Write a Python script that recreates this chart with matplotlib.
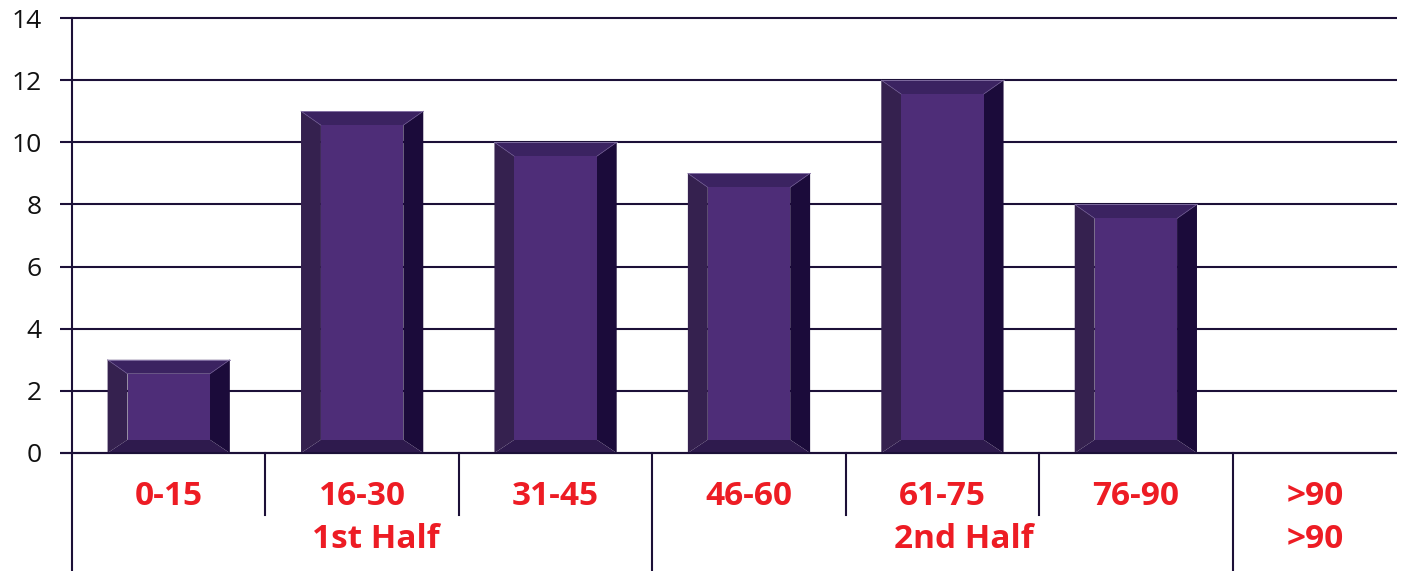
import matplotlib.pyplot as plt
from matplotlib.patches import Polygon
from matplotlib.transforms import blended_transform_factory

plt.rcParams['font.family'] = ['Open Sans', 'DejaVu Sans']

categories = ["0-15", "16-30", "31-45", "46-60", "61-75", "76-90", ">90"]
values = [3, 11, 10, 9, 12, 8, 0]
groups = ["1st Half", "2nd Half", ">90"]
group_spans = [(0, 2), (3, 5), (6, 6)]
yticks = [0, 2, 4, 6, 8, 10, 12, 14]

line_col = "#1c1038"
red = "#ed1c24"
face = "#4e2d78"
top_col = "#3b2361"
left_col = "#35214f"
right_col = "#1b0b3a"
bottom_col = "#2e1a4d"

fig = plt.figure(figsize=(14.01, 5.71), dpi=100)
# axes runs a bit past the right edge; last category is cut off like the original
ax = fig.add_axes([72 / 1401, 118 / 571, 1354 / 1401, 435 / 571])
ax.set_xlim(-0.5, len(categories) - 0.5)
ax.set_ylim(0, 14)

for s in ax.spines.values():
    s.set_visible(False)

gx0, gx1 = -12 / 1354, 1325 / 1354   # grid extent in axes fraction
grid_tr = blended_transform_factory(ax.transAxes, ax.transData)
for t in yticks:
    ax.plot([gx0, gx1], [t, t], color=line_col, lw=1.5, transform=grid_tr,
            clip_on=False, zorder=1, solid_capstyle="butt")

ax.set_yticks(yticks)
ax.set_xticks([])
ax.tick_params(axis="y", length=0, pad=22, labelsize=19, labelcolor="#111111")

# beveled bars
w = 0.632
bx = 0.103
by = 0.45
for i, v in enumerate(values):
    if v <= 0:
        continue
    x0, x1 = i - w / 2, i + w / 2
    ix0, ix1 = x0 + bx, x1 - bx
    iy0, iy1 = by * 0.95, v - by
    ax.add_patch(Polygon([(x0, v), (x1, v), (ix1, iy1), (ix0, iy1)], closed=True,
                         fc=top_col, ec="none", zorder=3))
    ax.add_patch(Polygon([(x0, 0), (x0, v), (ix0, iy1), (ix0, iy0)], closed=True,
                         fc=left_col, ec="none", zorder=3))
    ax.add_patch(Polygon([(x1, 0), (x1, v), (ix1, iy1), (ix1, iy0)], closed=True,
                         fc=right_col, ec="none", zorder=3))
    ax.add_patch(Polygon([(x0, 0), (x1, 0), (ix1, iy0), (ix0, iy0)], closed=True,
                         fc=bottom_col, ec="none", zorder=3))
    ax.add_patch(Polygon([(ix0, iy0), (ix1, iy0), (ix1, iy1), (ix0, iy1)], closed=True,
                         fc=face, ec="none", zorder=3))
    ax.plot([x0, ix0], [v, iy1], color="#6a548f", lw=0.5, zorder=4)
    ax.plot([x1, ix1], [v, iy1], color="#6a548f", lw=0.5, zorder=4)
    ax.plot([x0, x1], [v, v], color="#8a78aa", lw=0.6, zorder=4)

ax.plot([gx0, gx1], [0, 0], color=line_col, lw=1.5, transform=grid_tr,
        clip_on=False, zorder=5, solid_capstyle="butt")

# y axis line and separators below the axis
tr = blended_transform_factory(ax.transData, ax.transAxes)
ax.plot([-0.5, -0.5], [1, -0.27], color=line_col, lw=1.5, transform=tr, clip_on=False, zorder=5)
group_edges = [s[1] + 0.5 for s in group_spans[:-1]]
for i in range(1, len(categories)):
    b = i - 0.5
    low = -0.27 if b in group_edges else -0.1425
    ax.plot([b, b], [0, low], color=line_col, lw=1.5, transform=tr, clip_on=False, zorder=5)

# visible right end of the last category (in data units)
x_end = -0.5 + gx1 * len(categories)
label_x = list(range(len(categories) - 1)) + [(len(categories) - 1.5 + x_end) / 2]
for x, c in zip(label_x, categories):
    ax.text(x, -0.101, c, transform=tr, ha="center", va="center", color=red,
            fontsize=24, fontweight="bold")
group_x = [(group_spans[0][0] + group_spans[0][1]) / 2 + 0.07,
           (group_spans[1][0] + group_spans[1][1]) / 2 + 0.11,
           label_x[-1]]
for g, x in zip(groups, group_x):
    ax.text(x, -0.2, g, transform=tr, ha="center", va="center", color=red,
            fontsize=24, fontweight="bold")

fig.savefig("out.png", dpi=100)
